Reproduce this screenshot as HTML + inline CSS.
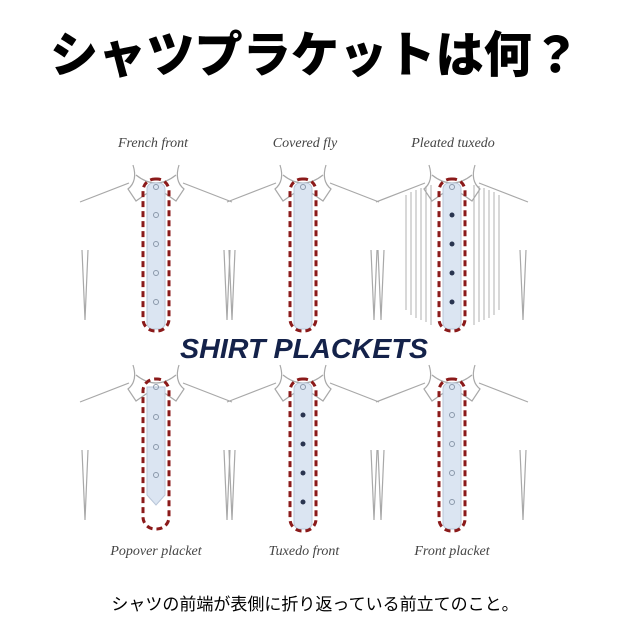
<!DOCTYPE html>
<html><head><meta charset="utf-8"><style>
html,body{margin:0;padding:0;background:#fff;width:631px;height:638px;overflow:hidden}
svg{display:block}
</style></head><body>
<svg width="631" height="638" viewBox="0 0 631 638" xmlns="http://www.w3.org/2000/svg">
<defs>
<g id="shirt" fill="none" stroke="#a8a8a8" stroke-width="1.2">
  <path d="M-23,0 Q-18,16 -28,24 L-20,36 L0,22 L20,36 L28,24 Q18,16 23,0"/>
  <path d="M-20,10 Q0,26 20,10"/>
  <path d="M-27,18 L-76,37 M27,18 L76,37"/>
  <path d="M-74,85 L-71,155 M-68,85 L-71,155"/>
  <path d="M74,85 L71,155 M68,85 L71,155"/>
</g>
<g id="plk">
  <rect x="-9" y="18" width="18" height="146" rx="6" fill="#dbe5f2" stroke="#b9c6d8" stroke-width="1"/>
  <rect x="-13" y="14" width="26" height="152" rx="12" fill="none" stroke="#8b1a1a" stroke-width="3" stroke-dasharray="6 4"/>
</g>
<g id="wb" fill="none" stroke="#8a98aa" stroke-width="1"><circle cx="0" cy="22" r="2.5"/><circle cx="0" cy="50" r="2.5"/><circle cx="0" cy="79" r="2.5"/><circle cx="0" cy="108" r="2.5"/><circle cx="0" cy="137" r="2.5"/></g>
<g id="db" fill="#2a3550"><circle cx="0" cy="22" r="2.5" fill="none" stroke="#8a98aa"/><circle cx="0" cy="50" r="2.5"/><circle cx="0" cy="79" r="2.5"/><circle cx="0" cy="108" r="2.5"/><circle cx="0" cy="137" r="2.5"/></g>
</defs>
<text x="315" y="72" text-anchor="middle" font-family="'Liberation Sans','Noto Sans CJK JP',sans-serif" font-weight="900" font-size="49" fill="#000" textLength="530" lengthAdjust="spacingAndGlyphs">シャツプラケットは何？</text>

<g font-family="'Liberation Serif',serif" font-style="italic" font-size="14" fill="#444" text-anchor="middle">
<text x="153" y="147">French front</text>
<text x="305" y="147">Covered fly</text>
<text x="453" y="147">Pleated tuxedo</text>
<text x="156" y="555">Popover placket</text>
<text x="304" y="555">Tuxedo front</text>
<text x="452" y="555">Front placket</text>
</g>

<g stroke="#b0b0b0" stroke-width="1">
<path d="M406,195V310 M411,192V315 M416,190V318 M421,188V320 M426,186V322 M431,185V325 M474,185V325 M479,186V322 M484,188V320 M489,190V318 M494,192V315 M499,195V310"/>
</g>

<g transform="translate(156,165)"><use href="#shirt"/><use href="#plk"/><use href="#wb"/></g>
<g transform="translate(303,165)"><use href="#shirt"/><use href="#plk"/><circle cx="0" cy="22" r="2.5" fill="none" stroke="#8a98aa"/></g>
<g transform="translate(452,165)"><use href="#shirt"/><use href="#plk"/><use href="#db"/></g>

<g transform="translate(156,365)"><use href="#shirt"/>
  <rect x="-13" y="14" width="26" height="150" rx="12" fill="none" stroke="#8b1a1a" stroke-width="3" stroke-dasharray="6 4"/>
  <path d="M-9,22 V130 L0,140 L9,130 V22 Z" fill="#dbe5f2" stroke="#b9c6d8"/>
  <g fill="none" stroke="#8a98aa"><circle cx="0" cy="22" r="2.5"/><circle cx="0" cy="52" r="2.5"/><circle cx="0" cy="82" r="2.5"/><circle cx="0" cy="110" r="2.5"/></g>
</g>
<g transform="translate(303,365)"><use href="#shirt"/><use href="#plk"/><use href="#db"/></g>
<g transform="translate(452,365)"><use href="#shirt"/><use href="#plk"/><use href="#wb"/></g>

<text x="304" y="358" text-anchor="middle" font-family="'Liberation Sans',sans-serif" font-weight="bold" font-style="italic" font-size="28" fill="#14224a" textLength="248" lengthAdjust="spacingAndGlyphs">SHIRT PLACKETS</text>

<text x="315" y="610" text-anchor="middle" font-family="'Liberation Sans','Noto Sans CJK JP',sans-serif" font-size="17" fill="#000">シャツの前端が表側に折り返っている前立てのこと。</text>
</svg>
</body></html>
